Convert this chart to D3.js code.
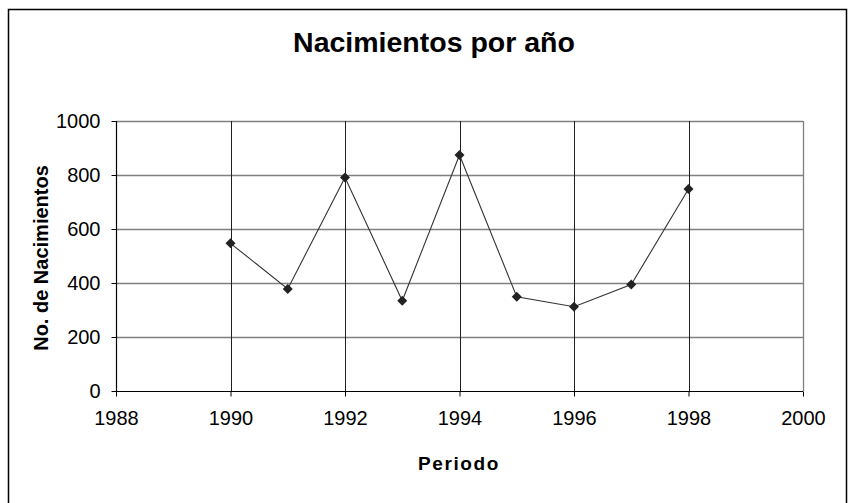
<!DOCTYPE html>
<html>
<head>
<meta charset="utf-8">
<script src="https://cdn.jsdelivr.net/npm/d3@7/dist/d3.min.js"></script>
<style>
  html, body { margin: 0; padding: 0; background: #fff; }
  svg { display: block; }
  text { font-family: "Liberation Sans", Arial, sans-serif; fill: #000; }
</style>
</head>
<body>
<svg id="chart" width="850" height="503"></svg>
<script>
const years = [1990, 1991, 1992, 1993, 1994, 1995, 1996, 1997, 1998];
const births = [547, 378, 791, 334, 874, 349, 312, 394, 748];
const xTicks = [1988, 1990, 1992, 1994, 1996, 1998, 2000];
const yTicks = [0, 200, 400, 600, 800, 1000];
const title = "Nacimientos por año";
const xTitle = "Periodo";
const yTitle = "No. de Nacimientos";

(function () {
const svg = d3.select("#chart");
const pLeft = 116, pRight = 803, pTop = 121, pBottom = 391;

// outer frame
svg.append("rect")
  .attr("x", 8.5).attr("y", 9.5).attr("width", 838).attr("height", 510)
  .attr("fill", "none").attr("stroke", "#000").attr("stroke-width", 1.5);

const x = d3.scaleLinear().domain([1988, 2000]).range([pLeft, pRight]);
const y = d3.scaleLinear().domain([0, 1000]).range([pBottom, pTop]);

// horizontal gridlines
svg.append("g").selectAll("line").data(yTicks.filter(d => d > 0)).join("line")
  .attr("x1", pLeft).attr("x2", pRight)
  .attr("y1", d => Math.round(y(d)) + 0.5).attr("y2", d => Math.round(y(d)) + 0.5)
  .attr("stroke", "#808080").attr("stroke-width", 1.3);

// vertical gridlines
svg.append("g").selectAll("line").data(xTicks.filter(d => d > 1988 && d < 2000)).join("line")
  .attr("x1", d => Math.round(x(d)) + 0.5).attr("x2", d => Math.round(x(d)) + 0.5)
  .attr("y1", pTop).attr("y2", pBottom)
  .attr("stroke", "#202020").attr("stroke-width", 1);

// right border of plot area
svg.append("line")
  .attr("x1", pRight + 0.5).attr("x2", pRight + 0.5).attr("y1", pTop).attr("y2", pBottom)
  .attr("stroke", "#808080").attr("stroke-width", 1.3);

// axes
const xAxis = d3.axisBottom(x).tickValues(xTicks).tickFormat(d3.format("d")).tickSize(5).tickPadding(14);
const yAxis = d3.axisLeft(y).tickValues(yTicks).tickFormat(d3.format("d")).tickSize(5).tickPadding(11);

const gx = svg.append("g").attr("transform", `translate(0,${pBottom + 0.5})`).call(xAxis);
const gy = svg.append("g").attr("transform", `translate(${pLeft + 0.5},0)`).call(yAxis);
[gx, gy].forEach(g => {
  g.select(".domain").attr("stroke", "#000").attr("stroke-width", 1.2);
  g.selectAll(".tick line").attr("stroke", "#000");
  g.selectAll(".tick text")
    .attr("font-family", "'Liberation Sans', Arial, sans-serif")
    .attr("font-size", 20).attr("fill", "#000");
});
gx.select(".domain").attr("d", `M${pLeft},0H${pRight}`);
gy.select(".domain").attr("d", `M0,${pBottom}V${pTop}`);

// line
const pts = years.map((yr, i) => [yr, births[i]]);
svg.append("path").datum(pts)
  .attr("fill", "none").attr("stroke", "#333").attr("stroke-width", 1.1)
  .attr("d", d3.line().x(d => x(d[0])).y(d => y(d[1])));

// markers
svg.append("g").selectAll("path").data(pts).join("path")
  .attr("transform", d => `translate(${x(d[0])},${y(d[1])})`)
  .attr("d", "M0,-5L5,0L0,5L-5,0Z")
  .attr("fill", "#222");

// titles
svg.append("text").attr("x", 434).attr("y", 52)
  .attr("text-anchor", "middle").attr("font-weight", "bold").attr("font-size", 28.5)
  .text(title);

svg.append("text").attr("x", 459).attr("y", 470)
  .attr("text-anchor", "middle").attr("font-weight", "bold").attr("font-size", 19)
  .attr("letter-spacing", 1.6)
  .text(xTitle);

svg.append("text")
  .attr("transform", "translate(48,258) rotate(-90)")
  .attr("text-anchor", "middle").attr("font-weight", "bold").attr("font-size", 20)
  .text(yTitle);
})();
</script>
</body>
</html>
